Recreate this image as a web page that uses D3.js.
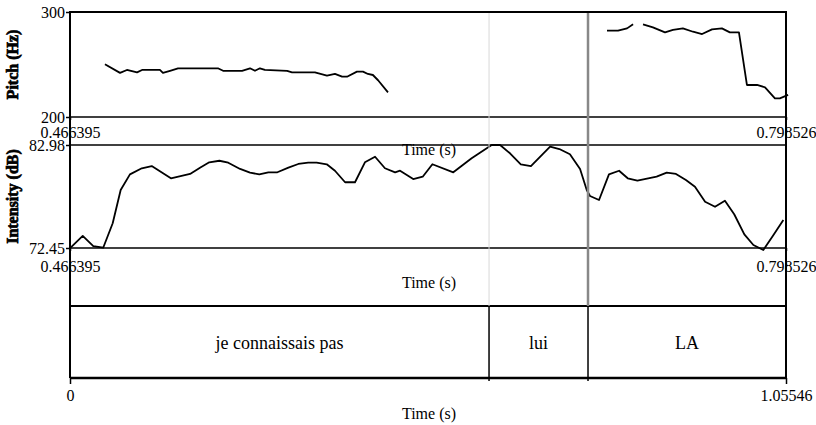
<!DOCTYPE html>
<html>
<head>
<meta charset="utf-8">
<script src="https://cdn.jsdelivr.net/npm/d3@7"></script>
<style>
  body { margin: 0; background: #fff; }
  svg { display: block; }
  text { font-family: "Liberation Serif", "DejaVu Serif", serif; font-size: 16px; fill: #000; }
</style>
</head>
<body>
<div id="chart"></div>
<script>
// time window of the pitch and intensity panels
var sigDomain = [0.466395, 0.798526];
var sigTickLabels = ["0.466395", "0.798526"];

// pitch track (Hz), null = unvoiced gap
var pitchTime = [0.4826, 0.4896, 0.4928, 0.4975, 0.4998, 0.5081, 0.5095, 0.5128, 0.5165, 0.5350,
    0.5374, 0.5462, 0.5499, 0.5522, 0.5545, 0.5568, 0.5671, 0.5694, 0.5800, 0.5856,
    0.5893, 0.5926, 0.5949, 0.5995, 0.6023, 0.6046, 0.6069, 0.6093, 0.6139,
    0.6500,
    0.7155, 0.7206, 0.7248, 0.7276,
    0.7300,
    0.7322, 0.7368, 0.7424, 0.7461, 0.7507, 0.7554, 0.7596, 0.7642, 0.7688, 0.7725,
    0.7767, 0.7804, 0.7851, 0.7888, 0.7934, 0.7957, 0.7995];
var pitchHz = [250.2, 242.0, 244.8, 242.5, 244.8, 244.8, 242.0, 244.0, 246.4, 246.4,
    244.0, 244.0, 246.4, 244.0, 246.4, 244.8, 244.0, 242.5, 242.5, 239.4,
    241.0, 238.4, 238.4, 243.2, 243.2, 241.0, 240.0, 235.0, 223.5,
    null,
    282.2, 282.2, 284.4, 288.3,
    null,
    288.3, 285.4, 280.6, 282.9, 284.4, 281.2, 279.0, 283.5, 284.4, 280.6,
    280.6, 230.5, 230.5, 228.3, 217.8, 217.8, 221.0];
var pitchDomain = [200, 300];
var pitchTickLabels = ["200", "300"];

// intensity contour (dB)
var intensityTime = [0.4668, 0.4723, 0.4772, 0.4818, 0.4862, 0.4899, 0.4942, 0.4997, 0.5043, 0.5132,
    0.5221, 0.5267, 0.5310, 0.5357, 0.5398, 0.5453, 0.5499, 0.5542, 0.5584, 0.5626,
    0.5677, 0.5723, 0.5769, 0.5808, 0.5855, 0.5893, 0.5940, 0.5986, 0.6032, 0.6079,
    0.6125, 0.6172, 0.6195, 0.6256, 0.6300, 0.6345, 0.6442, 0.6527, 0.6620, 0.6659,
    0.6705, 0.6755, 0.6802, 0.6891, 0.6934, 0.6983, 0.7030, 0.7061, 0.7076, 0.7118,
    0.7164, 0.7211, 0.7251, 0.7296, 0.7385, 0.7432, 0.7475, 0.7521, 0.7563, 0.7610,
    0.7656, 0.7702, 0.7745, 0.7792, 0.7834, 0.7880, 0.7924, 0.7973];
var intensityDb = [72.52, 73.68, 72.65, 72.48, 74.98, 78.38, 79.98, 80.60, 80.83, 79.58,
    80.02, 80.66, 81.21, 81.37, 81.17, 80.53, 80.15, 79.98, 80.19, 80.19,
    80.66, 81.04, 81.17, 81.17, 81.01, 80.35, 79.17, 79.17, 81.21, 81.78,
    80.60, 80.19, 80.35, 79.50, 79.74, 81.01, 80.19, 81.62, 82.98, 82.98,
    82.13, 81.01, 80.83, 82.81, 82.57, 82.03, 80.53, 78.38, 77.77, 77.36,
    79.98, 80.35, 79.58, 79.33, 79.74, 80.15, 80.02, 79.40, 78.72, 77.18,
    76.67, 77.29, 75.90, 73.85, 72.76, 72.25, 73.68, 75.31];
var intensityDomain = [72.45, 82.98];
var intensityTickLabels = ["72.45", "82.98"];

// text grid tier
var tierDomain = [0, 1.05546];
var tierTickLabels = ["0", "1.05546"];
var tierBounds = [0, 0.6177, 0.7636, 1.05546];
var tierLabels = ["je connaissais pas", "lui", "LA"];

var width = 816, height = 425;
var left = 70, right = 786;
var pitchTop = 12, pitchBottom = 117;
var intTop = 145, intBottom = 248;
var tierTop = 306, tierBottom = 378;

var svg = d3.select("#chart").append("svg")
    .attr("width", width)
    .attr("height", height);

var xSig = d3.scaleLinear().domain(sigDomain).range([left, right]);
var xTier = d3.scaleLinear().domain(tierDomain).range([left, right]);
var yPitch = d3.scaleLinear().domain(pitchDomain).range([pitchBottom, pitchTop]);
var yInt = d3.scaleLinear().domain(intensityDomain).range([intBottom, intTop]);

// curves
var pitchData = pitchTime.map(function(t, i){ return [t, pitchHz[i]]; });
var pitchLine = d3.line()
    .defined(function(d){ return d[1] != null; })
    .x(function(d){ return xSig(d[0]); })
    .y(function(d){ return yPitch(d[1]); });
svg.append("path")
    .attr("d", pitchLine(pitchData))
    .attr("fill", "none").attr("stroke", "#000").attr("stroke-width", 1.8)
    .attr("stroke-linejoin", "round");

var intData = intensityTime.map(function(t, i){ return [t, intensityDb[i]]; });
var intLine = d3.line()
    .x(function(d){ return xSig(d[0]); })
    .y(function(d){ return yInt(d[1]); });
svg.append("path")
    .attr("d", intLine(intData))
    .attr("fill", "none").attr("stroke", "#000").attr("stroke-width", 1.8)
    .attr("stroke-linejoin", "round");

// frame lines
function hline(y, w){
    svg.append("line").attr("x1", left).attr("x2", right).attr("y1", y).attr("y2", y)
        .attr("stroke", "#000").attr("stroke-width", w);
}
hline(pitchTop, 2);
hline(pitchBottom, 1.5);
hline(intTop, 1.5);
hline(intBottom, 1.5);
hline(tierTop, 2);
hline(tierBottom, 2.5);
[left, right].forEach(function(x){
    svg.append("line").attr("x1", x).attr("x2", x).attr("y1", pitchTop - 1).attr("y2", tierBottom)
        .attr("stroke", "#000").attr("stroke-width", 2);
});

// boundary lines across panels
svg.append("line")
    .attr("x1", xTier(tierBounds[1])).attr("x2", xTier(tierBounds[1]))
    .attr("y1", pitchTop + 1).attr("y2", tierTop)
    .attr("stroke", "#d8d8d8").attr("stroke-width", 1);
svg.append("line")
    .attr("x1", xTier(tierBounds[2])).attr("x2", xTier(tierBounds[2]))
    .attr("y1", pitchTop + 1).attr("y2", tierTop)
    .attr("stroke", "#888").attr("stroke-width", 2.5);

// tier intervals
svg.selectAll(".bound").data(tierBounds.slice(1, -1)).enter()
    .append("line")
    .attr("x1", function(d){ return xTier(d); }).attr("x2", function(d){ return xTier(d); })
    .attr("y1", tierTop).attr("y2", tierBottom + 3)
    .attr("stroke", "#000").attr("stroke-width", 1.5);
svg.selectAll(".tlab").data(tierLabels).enter()
    .append("text")
    .attr("x", function(d, i){ return xTier((tierBounds[i] + tierBounds[i + 1]) / 2); })
    .attr("y", 349)
    .attr("text-anchor", "middle")
    .style("font-size", "18px")
    .text(function(d){ return d; });

// y axes
function yAxis(scale, labels){
    var ax = d3.axisLeft(scale)
        .tickValues(scale.domain())
        .tickFormat(function(d, i){ return labels[i]; })
        .tickSize(4).tickPadding(1);
    var g = svg.append("g").attr("transform", "translate(" + left + ",0)").call(ax);
    g.select(".domain").remove();
    g.selectAll("line").attr("stroke", "#000").attr("stroke-width", 1.5);
    g.selectAll("text").attr("font-size", null).attr("font-family", null);
}
yAxis(yPitch, pitchTickLabels);
yAxis(yInt, intensityTickLabels);

// x axes
function xAxis(scale, labels, y, size, pad){
    var ax = d3.axisBottom(scale)
        .tickValues(scale.domain())
        .tickFormat(function(d, i){ return labels[i]; })
        .tickSize(size).tickPadding(pad);
    var g = svg.append("g").attr("transform", "translate(0," + y + ")").call(ax);
    g.select(".domain").remove();
    g.selectAll("line").attr("stroke", "#000").attr("stroke-width", 1.5);
    g.selectAll("text").attr("font-size", null).attr("font-family", null);
}
xAxis(xSig, sigTickLabels, pitchBottom, 3, 6.5);
xAxis(xSig, sigTickLabels, intBottom, 3, 9.5);
xAxis(xTier, tierTickLabels, tierBottom, 6, 6);

// axis titles
var titles = [[429, 155], [429, 288], [429, 419]];
titles.forEach(function(p){
    svg.append("text").attr("x", p[0]).attr("y", p[1])
        .attr("text-anchor", "middle").text("Time (s)");
});

svg.append("text")
    .attr("transform", "translate(18," + (pitchTop + pitchBottom) / 2 + ") rotate(-90)")
    .attr("text-anchor", "middle")
    .attr("font-weight", "bold")
    .attr("stroke", "#000").attr("stroke-width", 0.7)
    .text("Pitch (Hz)");
svg.append("text")
    .attr("transform", "translate(18," + (intTop + intBottom) / 2 + ") rotate(-90)")
    .attr("text-anchor", "middle")
    .attr("font-weight", "bold")
    .attr("stroke", "#000").attr("stroke-width", 0.7)
    .text("Intensity (dB)");
</script>
</body>
</html>
